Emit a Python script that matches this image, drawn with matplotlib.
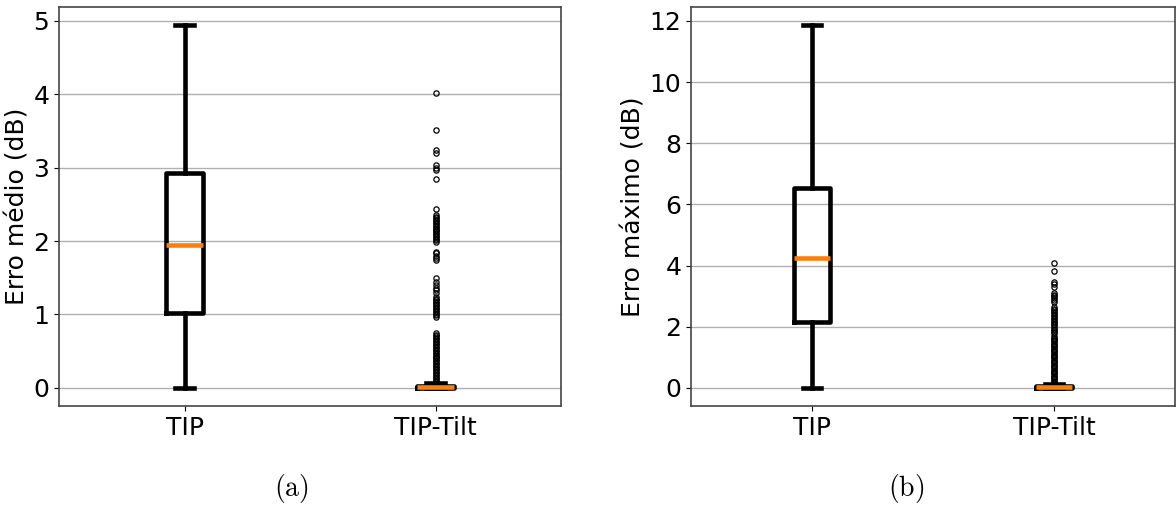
import matplotlib
matplotlib.use("Agg")
import matplotlib.pyplot as plt

plt.rcParams["mathtext.fontset"] = "cm"

labels = ["TIP", "TIP-Tilt"]

# Erro médio (dB): five-number summaries
mean_whislo = [0.0, 0.0]
mean_q1 = [1.02, 0.0]
mean_med = [1.94, 0.005]
mean_q3 = [2.93, 0.02]
mean_whishi = [4.94, 0.06]
mean_fliers_tilt = [
    0.08, 0.10, 0.12, 0.14, 0.16, 0.18, 0.20, 0.22, 0.24, 0.26, 0.28, 0.30,
    0.32, 0.34, 0.36, 0.38, 0.40, 0.42, 0.44, 0.46, 0.48, 0.50, 0.52, 0.54,
    0.56, 0.58, 0.60, 0.62, 0.64, 0.66, 0.68, 0.70, 0.72, 0.75,
    0.97, 0.99, 1.01, 1.03, 1.05, 1.07, 1.09, 1.11, 1.13, 1.15, 1.17, 1.19,
    1.21, 1.24, 1.29, 1.33, 1.36, 1.40, 1.44, 1.49,
    1.74, 1.77, 1.80, 1.83, 1.85,
    1.99, 2.01, 2.03, 2.05, 2.07, 2.09, 2.11, 2.13, 2.15, 2.17, 2.19, 2.21,
    2.23, 2.25, 2.27, 2.29, 2.31, 2.33, 2.35, 2.44,
    2.85, 2.97, 3.00, 3.03, 3.20, 3.24, 3.51, 4.02,
]

# Erro máximo (dB): five-number summaries
max_whislo = [0.0, 0.0]
max_q1 = [2.16, 0.0]
max_med = [4.25, 0.02]
max_q3 = [6.54, 0.05]
max_whishi = [11.86, 0.14]
max_fliers_tilt = [
    0.16, 0.20, 0.24, 0.28, 0.32, 0.36, 0.40, 0.44, 0.48, 0.52, 0.56, 0.60,
    0.64, 0.68, 0.72, 0.76, 0.80, 0.84, 0.88, 0.92, 0.96, 1.00, 1.04, 1.08,
    1.12, 1.16, 1.20, 1.24, 1.28, 1.32, 1.36, 1.40, 1.44, 1.48, 1.52, 1.56,
    1.60, 1.64, 1.68,
    1.79, 1.84, 1.89, 1.94, 1.99, 2.04, 2.09, 2.14, 2.19, 2.24, 2.29, 2.34,
    2.39, 2.44, 2.49, 2.54, 2.59, 2.64,
    2.82, 2.88, 2.94, 3.00, 3.05, 3.09, 3.31, 3.38, 3.45, 3.83, 4.07,
]


def build_stats(whislo, q1, med, q3, whishi, fliers_tilt):
    stats = []
    for i, lab in enumerate(labels):
        stats.append(dict(label=lab, whislo=whislo[i], q1=q1[i], med=med[i],
                          q3=q3[i], whishi=whishi[i],
                          fliers=fliers_tilt if i == 1 else []))
    return stats


fig = plt.figure(figsize=(11.76, 5.08), dpi=100)
ax1 = fig.add_axes([0.0502, 0.2008, 0.4269, 0.7854])
ax2 = fig.add_axes([0.5876, 0.2008, 0.4116, 0.7854])

lw = 3.3
box_kw = dict(
    boxprops=dict(color="black", linewidth=lw),
    whiskerprops=dict(color="black", linewidth=lw),
    capprops=dict(color="black", linewidth=lw),
    medianprops=dict(color="#ff7f0e", linewidth=lw),
    flierprops=dict(marker="o", markersize=3.8, markerfacecolor="none",
                    markeredgecolor="black", markeredgewidth=0.9),
)

panels = [
    (ax1, build_stats(mean_whislo, mean_q1, mean_med, mean_q3, mean_whishi,
                      mean_fliers_tilt), "Erro médio (dB)", [0, 1, 2, 3, 4, 5]),
    (ax2, build_stats(max_whislo, max_q1, max_med, max_q3, max_whishi,
                      max_fliers_tilt), "Erro máximo (dB)", [0, 2, 4, 6, 8, 10, 12]),
]

for ax, stats, ylab, yt in panels:
    ax.bxp(stats, **box_kw)
    ax.set_xlim(0.5, 2.5)
    ax.set_yticks(yt)
    ax.set_ylabel(ylab, fontsize=18, labelpad=3)
    ax.tick_params(axis="both", labelsize=18)
    ax.yaxis.grid(True, color="#b0b0b0", linewidth=1)
    ax.set_axisbelow(True)
    for sp in ax.spines.values():
        sp.set_color("#444444")
        sp.set_linewidth(1.2)

fig.text(0.2474, 0.039, r"$\mathrm{(a)}$", fontsize=20, ha="center", va="center")
fig.text(0.7704, 0.039, r"$\mathrm{(b)}$", fontsize=20, ha="center", va="center")

fig.savefig("out.png", dpi=100)
